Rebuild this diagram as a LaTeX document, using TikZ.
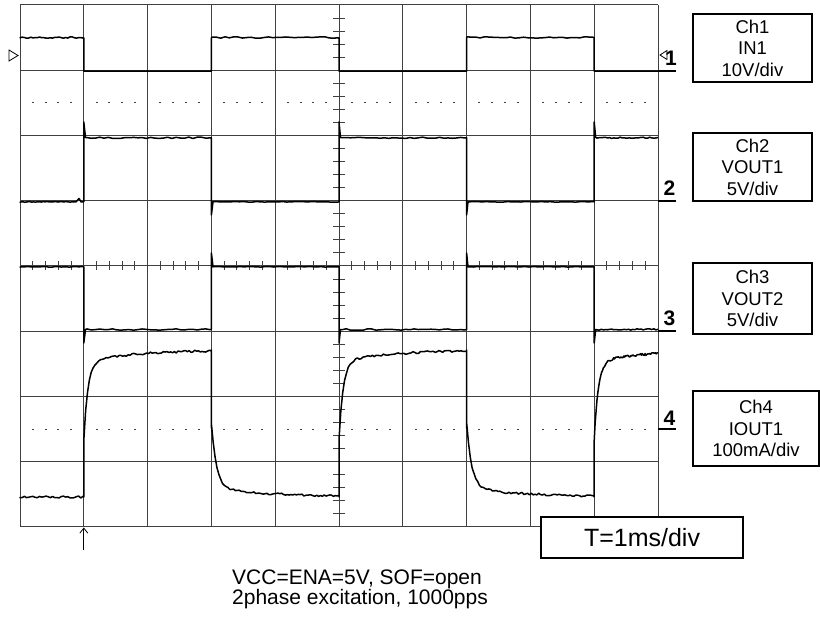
\documentclass[tikz,border=0pt]{standalone}
\usepackage{fontspec}
\setmainfont{Liberation Sans}
\usetikzlibrary{arrows.meta}

\tikzset{
    divline/.style={draw=black!75, line width=1pt},
    wave/.style={black, line width=1.5pt, line join=round},
    chbox/.style={draw, rectangle, line width=1.2pt, minimum width=119pt, minimum height=68pt,
        inner sep=0pt, align=center, font=\fontsize{18.5}{21.5}\selectfont},
    chmark/.style={inner sep=0pt, font=\bfseries\fontsize{21}{21}\selectfont},
}
% noisy flat run of a trace: from, to, level, amplitude
\newcommand{\noisyrun}[4]{-- plot[domain=#1:#2, samples=30] (\x,{#3+#4*rand})}
% current of the coil: start x, length
\newcommand{\currise}[2]{-- plot[domain=0:#2, samples=70] ({#1+\x},{350+12*exp(-\x/50)+78*exp(-\x/4)+1.1*rand})}
\newcommand{\curfall}[2]{-- plot[domain=0:#2, samples=70] ({#1+\x},{497-9*exp(-\x/60)-65*exp(-\x/5)+1.1*rand})}

\begin{document}
\begin{tikzpicture}[x=1pt, y=-1pt]
    \useasboundingbox (0,0) rectangle (820,617);
    \pgfmathsetseed{7}

    % Screen grid
    \foreach \i in {0,...,10}
        \draw[divline] ({20+63.8*\i},5) -- ({20+63.8*\i},527);
    \foreach \j in {0,...,8}
        \draw[divline] (20,{5+65.25*\j}) -- (658,{5+65.25*\j});
    \foreach \k in {1,...,49}
        \draw[divline] ({20+12.76*\k},261.5) -- ({20+12.76*\k},270.5);
    \foreach \k in {1,...,39}
        \draw[divline] (333,{5+13.05*\k}) -- (345,{5+13.05*\k});
    \foreach \k in {1,...,49}{
        \pgfmathtruncatemacro\m{mod(\k,5)}
        \ifnum\m>0
            \draw[divline] ({19+12.76*\k},102.9) -- ({21+12.76*\k},102.9);
            \draw[divline] ({19+12.76*\k},429.1) -- ({21+12.76*\k},429.1);
        \fi
    }

    % Ch1
    \draw[wave] (20,37.5) \noisyrun{20}{83}{37.5}{0.7} -- (83.8,38) -- (83.8,71.2) -- (211.4,71.2)
        -- (211.4,38) \noisyrun{212}{338}{37.5}{0.7} -- (339,38) -- (339,71.2) -- (466.6,71.2)
        -- (466.6,38) \noisyrun{467}{593}{37.5}{0.7} -- (594.2,38) -- (594.2,71.2) -- (658,71.2);

    % Ch2
    \draw[wave] (20,201.8) \noisyrun{20}{76}{201.8}{0.3} -- (79,198.5) -- (81,201.8) -- (83.8,201.8)
        -- (83.8,122) -- (85.5,137.5) \noisyrun{87}{210}{137.8}{0.7} -- (211.4,137.8)
        -- (211.4,215) -- (213,201.8) \noisyrun{214}{338}{201.8}{0.3} -- (339,201.8)
        -- (339,122) -- (340.5,137.5) \noisyrun{342}{465}{137.8}{0.7} -- (466.6,137.8)
        -- (466.6,215) -- (468,201.8) \noisyrun{469}{593}{201.8}{0.3} -- (594.2,201.8)
        -- (594.2,122) -- (595.7,137.5) \noisyrun{597}{658}{137.8}{0.7};

    % Ch3
    \draw[wave] (20,266.8) \noisyrun{20}{83}{266.8}{0.3} -- (83.8,266.8)
        -- (83.8,343) -- (85.5,329.5) \noisyrun{87}{210}{329.5}{0.7} -- (211.4,329.5)
        -- (211.4,253) -- (213,266.8) \noisyrun{214}{338}{266.8}{0.3} -- (339,266.8)
        -- (339,343) -- (340.5,329.5) \noisyrun{342}{465}{329.5}{0.7} -- (466.6,329.5)
        -- (466.6,253) -- (468,266.8) \noisyrun{469}{593}{266.8}{0.3} -- (594.2,266.8)
        -- (594.2,343) -- (595.7,329.5) \noisyrun{597}{658}{329.5}{0.7};

    % Ch4
    \draw[wave] (20,497) \noisyrun{20}{83}{497}{1} -- (83.8,497) -- (83.8,440)
        \currise{83.8}{127.6} -- (211.4,350) -- (211.4,428)
        \curfall{211.4}{127.6} -- (339,497) -- (339,440)
        \currise{339}{127.6} -- (466.6,350) -- (466.6,428)
        \curfall{466.6}{127.6} -- (594.2,497) -- (594.2,440)
        \currise{594.2}{63.8};

    % Markers
    \draw[line width=0.8pt] (9,50) -- (18,55.5) -- (9,61) -- cycle;
    \draw[line width=0.8pt] (660,55) -- (667,50.5) -- (667,59.5) -- cycle;
    \node[chmark] (m1) at (671,58) {1};
    \node[chmark] (m2) at (669.5,188.5) {2};
    \node[chmark] (m3) at (669.5,318) {3};
    \node[chmark] (m4) at (669.5,418.5) {4};
    \foreach \y in {71,201,331,429}
        \draw[line width=2pt] (658,\y) -- (676,\y);

    % Trigger point
    \coordinate (trigfoot) at (83.8,550);
    \coordinate (trig) at (83.8,527.5);
    \draw[-{Straight Barb[length=5pt, width=8pt]}, line width=0.8pt] (trigfoot) -- (trig);

    % Channel boxes
    \node[chbox] (ch1) at (752.5,48) {Ch1\\IN1\\10V/div};
    \node[chbox] (ch2) at (752.5,167) {Ch2\\VOUT1\\5V/div};
    \node[chbox, minimum height=71pt] (ch3) at (752.5,298.5) {Ch3\\VOUT2\\5V/div};
    \node[chbox, minimum width=126pt, minimum height=75pt] (ch4) at (756,428.5) {Ch4\\IOUT1\\100mA/div};
    \node[draw, fill=white, line width=1.2pt, minimum width=202pt, minimum height=41pt,
        inner sep=0pt, font=\fontsize{25}{25}\selectfont] (tdiv) at (642,537.5) {T=1ms/div};

    % Conditions
    \node[anchor=base west, inner sep=0pt, font=\fontsize{21}{21}\selectfont] (cond1) at (232,584.5) {VCC=ENA=5V, SOF=open};
    \node[anchor=base west, inner sep=0pt, font=\fontsize{21}{21}\selectfont] (cond2) at (232,604.5) {2phase excitation, 1000pps};
\end{tikzpicture}
\end{document}
